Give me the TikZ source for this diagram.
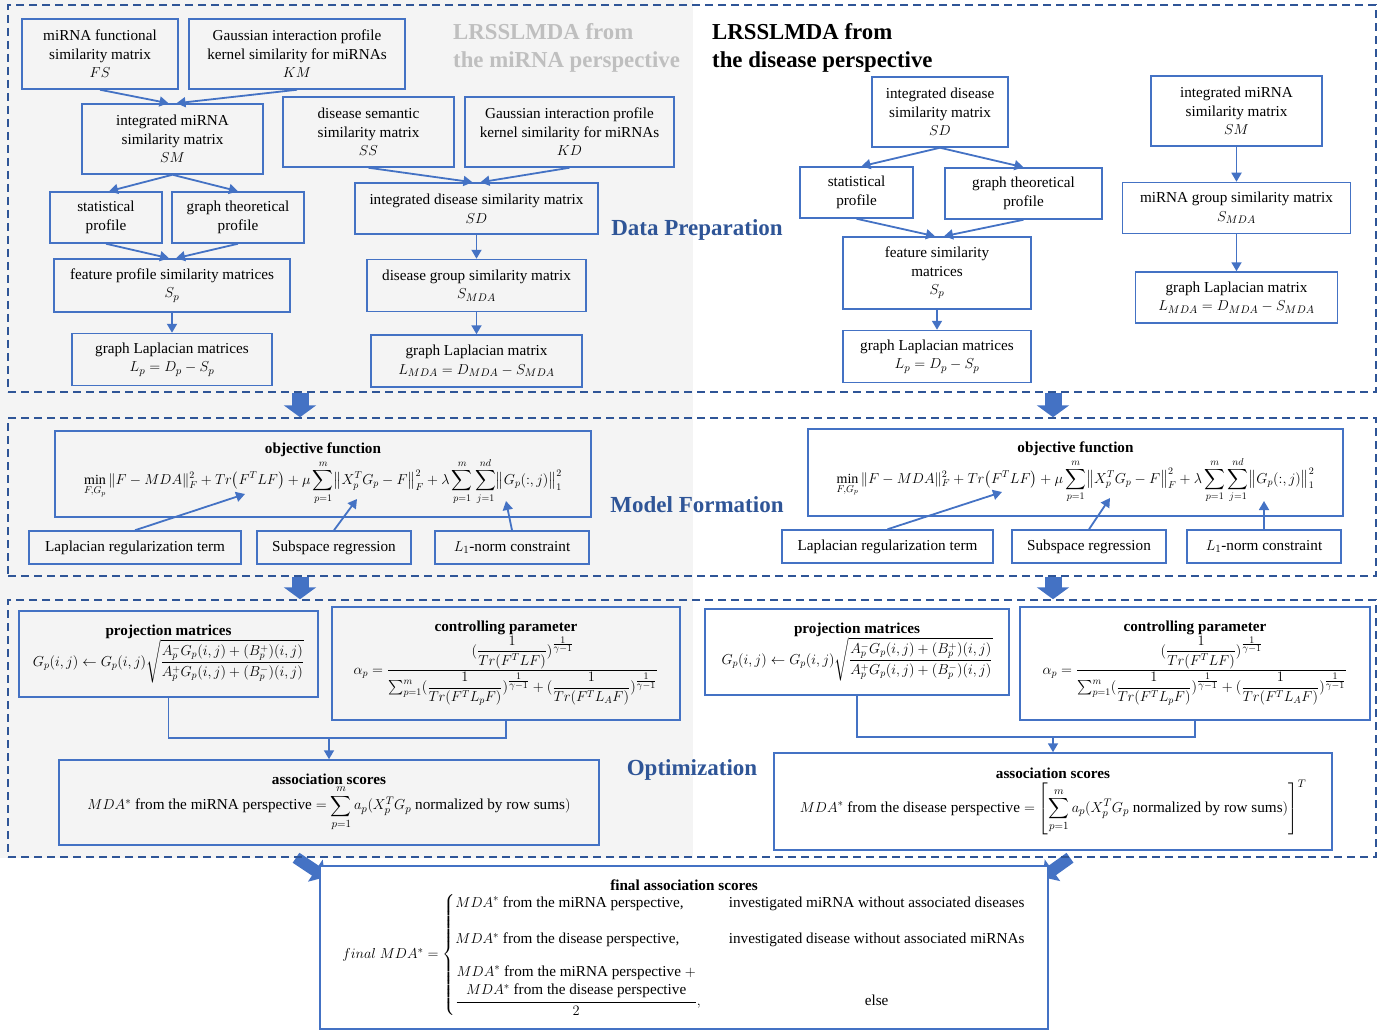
\documentclass[tikz,border=0pt]{standalone}
\usepackage{amsmath}
\usepackage{fontspec}
\setmainfont{Liberation Serif}
\usetikzlibrary{arrows.meta, positioning, backgrounds}

\definecolor{boxblue}{HTML}{4472C4}
\definecolor{dashblue}{HTML}{2F5597}
\definecolor{leftgray}{HTML}{F4F4F4}
\definecolor{titlegray}{HTML}{BFBFBF}

\newcommand{\eqfont}{\fontsize{14}{17}\selectfont}
\newcommand{\gexp}{\frac{\scriptstyle 1}{\scriptstyle\gamma-1}}
\newcommand{\objeq}{{\eqfont$\displaystyle\min_{F,G_p}\|F-MDA\|_F^2+Tr\bigl(F^TLF\bigr)+\mu\sum_{p=1}^{m}\bigl\|X_p^TG_p-F\bigr\|_F^2+\lambda\sum_{p=1}^{m}\sum_{j=1}^{nd}\bigl\|G_p(:,j)\bigr\|_1^2$}}
\newcommand{\projeq}{{\eqfont$\displaystyle G_p(i,j)\leftarrow G_p(i,j)\sqrt{\frac{A_p^-G_p(i,j)+(B_p^+)(i,j)}{A_p^+G_p(i,j)+(B_p^-)(i,j)}}$}}
\newcommand{\ctrleq}{{\eqfont$\displaystyle\alpha_p=\frac{(\dfrac{1}{Tr(F^TLF)})^{\gexp}}{\sum_{p=1}^{m}(\dfrac{1}{Tr(F^TL_pF)})^{\gexp}+(\dfrac{1}{Tr(F^TL_AF)})^{\gexp}}$}}

\begin{document}
\begin{tikzpicture}[
  x=1pt, y=-1pt,
  box/.style={draw=boxblue, line width=1.5pt, align=center, inner sep=2pt, font=\fontsize{15.2}{18.5}\selectfont},
  sz/.style 2 args={minimum width=#1pt, minimum height=#2pt},
  panel/.style={draw=dashblue, line width=1.5pt, dash pattern=on 8pt off 5pt},
  edge/.style={-{Triangle[length=9pt,width=10pt]}, draw=boxblue, line width=1.8pt},
  link/.style={draw=boxblue, line width=1.8pt},
  bigarrow/.style={-{Triangle[length=12pt,width=32pt]}, draw=boxblue, line width=17pt},
  cornerarrow/.style={-{Triangle[length=12pt,width=26pt]}, draw=boxblue, line width=12pt},
  sect/.style={text=dashblue, font=\fontsize{23}{27}\selectfont\bfseries},
  head/.style={font=\fontsize{22.8}{28}\selectfont\bfseries, align=left, inner sep=0pt, anchor=north west}
]
\useasboundingbox (0,0) rectangle (1382,1030);

% panels
\node[panel, sz={1368}{387}] (dp) at (692,198.5) {};
\node[panel, sz={1368}{158}] (mf) at (692,497) {};
\node[panel, sz={1368}{257}] (op) at (692,728.5) {};
\coordinate (la) at (300,0);
\coordinate (ra) at (1053,0);

\node[head, text=titlegray] (ltitle) at (453,23) {LRSSLMDA from\\the miRNA perspective};
\node[head] (rtitle) at (712,23) {LRSSLMDA from\\the disease perspective};
\node[sect] (dplab) at (697,230) {Data Preparation};
\node[sect] (mflab) at (697,505) {Model Formation};
\node[sect] (oplab) at (692,770) {Optimization};

% data preparation, miRNA side
\node[box, sz={156}{70}] (fs) at (100,54) {miRNA functional\\similarity matrix\\$FS$};
\node[box, sz={216}{70}] (km) at (297,54) {Gaussian interaction profile\\kernel similarity for miRNAs\\$KM$};
\node[box, sz={181}{70}] (sm) at (172.5,139) {integrated miRNA\\similarity matrix\\$SM$};
\node[box, sz={171}{70}] (ss) at (368.5,132) {disease semantic\\similarity matrix\\$SS$};
\node[box, sz={209}{70}] (kd) at (569.5,132) {Gaussian interaction profile\\kernel similarity for miRNAs\\$KD$};
\node[box, sz={112}{51}] (stat) at (106,217.5) {statistical\\profile};
\node[box, sz={132}{51}] (gtp) at (238,217.5) {graph theoretical\\profile};
\node[box, sz={243}{51}] (sd) at (476.5,208.5) {integrated disease similarity matrix\\$SD$};
\node[box, sz={236}{53}] (fps) at (172,285.5) {feature profile similarity matrices\\$S_p$};
\node[box, sz={219}{52}, below=24pt of sd] (dgs) {disease group similarity matrix\\$S_{MDA}$};
\node[box, sz={200}{52}, below=20pt of fps] (glp) {graph Laplacian matrices\\$L_p=D_p-S_p$};
\node[box, sz={211}{52}, below=22pt of dgs] (glm) {graph Laplacian matrix\\$L_{MDA}=D_{MDA}-S_{MDA}$};

\draw[edge] (fs.south) -- ([xshift=-4pt]sm.north);
\draw[edge] (km.south) -- ([xshift=4pt]sm.north);
\draw[edge] (sm.south) -- ([xshift=3pt]stat.north);
\draw[edge] (sm.south) -- (gtp.north);
\draw[edge] (stat.south) -- ([xshift=-3pt]fps.north);
\draw[edge] (gtp.south) -- ([xshift=4pt]fps.north);
\draw[edge] (fps) -- (glp);
\draw[edge] (ss.south) -- ([xshift=-4pt]sd.north);
\draw[edge] (kd.south) -- ([xshift=4pt]sd.north);
\draw[edge] (sd) -- (dgs);
\draw[edge] (dgs) -- (glm);

% data preparation, disease side
\node[box, sz={136}{70}] (rsd) at (940,112) {integrated disease\\similarity matrix\\$SD$};
\node[box, sz={171}{70}] (rsm) at (1236.5,111) {integrated miRNA\\similarity matrix\\$SM$};
\node[box, sz={113}{51}] (rstat) at (856.5,192.5) {statistical\\profile};
\node[box, sz={157}{51}] (rgtp) at (1023.5,193.5) {graph theoretical\\profile};
\node[box, sz={228}{51}, below=35pt of rsm] (rmgs) {miRNA group similarity matrix\\$S_{MDA}$};
\node[box, sz={188}{72}] (rfsm) at (937,273) {feature similarity\\matrices\\$S_p$};
\node[box, sz={188}{52}, below=20pt of rfsm] (rglp) {graph Laplacian matrices\\$L_p=D_p-S_p$};
\node[box, sz={202}{51}, below=37pt of rmgs] (rglm) {graph Laplacian matrix\\$L_{MDA}=D_{MDA}-S_{MDA}$};

\draw[edge] (rsd.south) -- ([xshift=5pt]rstat.north);
\draw[edge] (rsd.south) -- (rgtp.north);
\draw[edge] (rstat.south) -- ([xshift=-2pt]rfsm.north);
\draw[edge] (rgtp.south) -- ([xshift=7pt]rfsm.north);
\draw[edge] (rfsm) -- (rglp);
\draw[edge] (rsm) -- (rmgs);
\draw[edge] (rmgs) -- (rglm);

% model formation
\node[box, sz={536}{86}] (obj) at (323,474) {\textbf{objective function}\\ \objeq};
\node[box, sz={212}{33}] (lrt) at (135,547.5) {Laplacian regularization term};
\node[box, sz={154}{33}] (sr) at (334,547.5) {Subspace regression};
\node[box, sz={154}{33}] (lone) at (512,547.5) {$L_1$-norm constraint};
\coordinate (trf) at (245,494);
\coordinate (xpg) at (357,499);
\coordinate (gpj) at (506,501);
\draw[edge] (lrt.north) -- (trf);
\draw[edge] (sr.north) -- (xpg);
\draw[edge] (lone.north) -- (gpj);

\node[box, sz={535}{87}] (robj) at (1075.5,472.5) {\textbf{objective function}\\ \objeq};
\node[box, sz={211}{33}] (rlrt) at (887.5,546.5) {Laplacian regularization term};
\node[box, sz={154}{33}] (rsr) at (1089,546.5) {Subspace regression};
\node[box, sz={154}{33}] (rlone) at (1264,546.5) {$L_1$-norm constraint};
\coordinate (rtrf) at (1002,492);
\coordinate (rxpg) at (1110,498);
\coordinate (rgpj) at (1264,501);
\draw[edge] (rlrt.north) -- (rtrf);
\draw[edge] (rsr.north) -- (rxpg);
\draw[edge] (rlone.north) -- (rgpj);

% optimization
\node[box, sz={299}{86}] (proj) at (168.5,654) {\textbf{projection matrices}\\ \projeq};
\node[box, sz={348}{113}] (ctrl) at (506,663.5) {\textbf{controlling parameter}\\ \ctrleq};
\node[box, sz={540}{85}] (asc) at (329,802.5) {\textbf{association scores}\\ $\displaystyle MDA^*\text{ from the miRNA perspective}=\sum_{p=1}^{m}a_p(X_p^TG_p\text{ normalized by row sums})$};
\coordinate (lj) at (329,738);
\draw[link] (proj.south) |- (lj) -| (ctrl.south);
\draw[edge] (lj) -- (asc.north);

\node[box, sz={304}{86}] (rproj) at (857,652) {\textbf{projection matrices}\\ \projeq};
\node[box, sz={350}{113}] (rctrl) at (1195,663.5) {\textbf{controlling parameter}\\ \ctrleq};
\node[box, sz={558}{97}] (rasc) at (1053,801.5) {\textbf{association scores}\\ $\displaystyle MDA^*\text{ from the disease perspective}=\left[\sum_{p=1}^{m}a_p(X_p^TG_p\text{ normalized by row sums})\right]^T$};
\coordinate (rj) at (1053,737);
\draw[link] (rproj.south) |- (rj) -| (rctrl.south);
\draw[edge] (rj) -- (rasc.north);

% final scores
\node[box, fill=white, sz={728}{163}] (final) at (684,947.5) {\textbf{final association scores}\\[3pt]
$final\ MDA^*=\left\{\begin{array}{@{}l@{\hspace{28pt}}l@{}}
MDA^*\text{ from the miRNA perspective,} & \text{investigated miRNA without associated diseases}\\[18pt]
MDA^*\text{ from the disease perspective,} & \text{investigated disease without associated miRNAs}\\[14pt]
\dfrac{\begin{array}{@{}c@{}}MDA^*\text{ from the miRNA perspective }+\\MDA^*\text{ from the disease perspective}\end{array}}{2}, & \multicolumn{1}{c}{\text{else}}
\end{array}\right.$};

% block arrows
\draw[bigarrow] (dp.south -| la) -- (mf.north -| la);
\draw[bigarrow] (dp.south -| ra) -- (mf.north -| ra);
\draw[bigarrow] (mf.south -| la) -- (op.north -| la);
\draw[bigarrow] (mf.south -| ra) -- (op.north -| ra);

\begin{scope}[on background layer]
\fill[leftgray] (0,0) rectangle (693,858);
\draw[cornerarrow] ([xshift=-4pt]op.south -| la) -- ([xshift=6pt,yshift=-12pt]final.north west);
\draw[cornerarrow] ([xshift=17pt]op.south -| ra) -- ([xshift=-6pt,yshift=-12pt]final.north east);
\end{scope}
\end{tikzpicture}
\end{document}
